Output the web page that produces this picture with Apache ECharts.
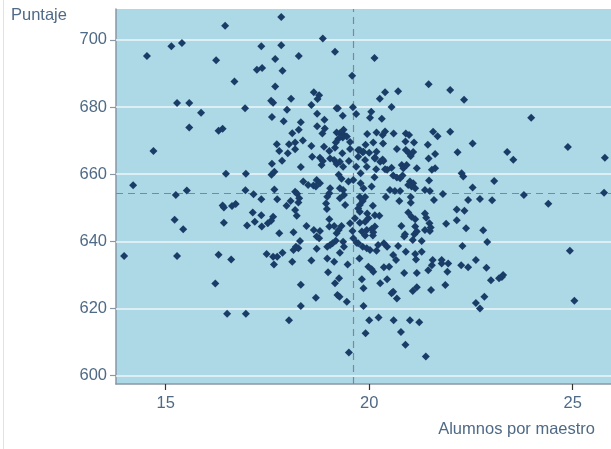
<!DOCTYPE html>
<html>
<head>
<meta charset="utf-8">
<script src="https://cdn.jsdelivr.net/npm/echarts@6/dist/echarts.min.js"></script>
<style>
  html, body { margin: 0; padding: 0; background: #ffffff; }
  #chart { width: 611px; height: 449px; }
</style>
</head>
<body>
<div id="chart"></div>
<script>
// Alumnos por maestro (x) y puntaje (y) por distrito, en el mismo orden.
const alumnosPorMaestro = [
  16.46,15.40,15.14,14.54,16.24,16.69,15.28,15.58,15.87,16.95,
  15.58,16.30,16.40,14.70,16.48,16.97,14.20,15.52,15.25,16.96,
  16.40,16.43,16.63,16.72,15.22,16.43,15.43,17.00,13.98,15.28,
  16.30,16.61,16.22,16.51,16.97,
  23.98,23.39,23.54,24.88,25.79,23.07,23.02,22.72,23.80,24.40,
  25.77,22.80,22.90,24.93,22.88,22.99,23.19,23.26,23.29,22.83,
  22.72,25.04,22.62,
  17.84,18.86,17.35,17.84,19.16,18.27,17.69,20.13,17.24,17.37,
  17.87,19.58,21.46,
  17.69,18.64,18.77,18.73,17.59,17.64,18.08,18.58,17.98,19.20,
  19.23,19.60,19.68,18.72,19.35,17.61,17.90,18.32,18.90,18.72,
  18.91,18.85,18.27,18.11,19.37,19.20,19.28,19.38,19.45,19.35,
  19.24,19.18,19.53,17.73,18.03,18.18,18.37,18.58,18.89,17.79,
  18.18,18.00,19.02,19.16,19.53,19.34,19.73,19.84,
  21.99,20.39,20.71,20.26,22.33,20.55,20.05,20.02,20.31,19.95,
  20.18,20.39,20.33,20.60,20.90,20.98,21.57,21.68,21.99,20.89,
  21.10,21.44,22.54,19.91,20.10,20.34,20.68,20.90,20.98,21.08,
  21.02,19.77,19.86,20.00,20.18,21.62,22.17,21.46,20.14,20.33,
  17.86,17.61,18.32,17.60,17.67,18.60,18.79,18.86,18.83,19.04,
  19.14,19.20,19.28,19.36,19.50,19.68,19.73,19.79,19.25,19.32,
  19.49,19.61,19.79,18.38,18.50,18.63,18.71,18.79,18.69,17.16,
  17.67,17.35,17.74,18.18,18.23,18.07,17.97,18.28,18.26,18.18,
  18.22,19.04,19.02,18.97,19.28,19.36,19.28,19.38,18.94,18.96,
  19.41,19.73,17.14,17.35,17.64,17.59,17.51,17.19,17.36,18.46,
  18.64,18.79,19.02,19.02,19.14,19.32,19.53,19.65,19.77,19.25,
  19.59,18.14,17.79,
  19.90,19.94,20.14,20.17,20.27,20.35,20.39,20.55,20.44,20.80,
  20.92,20.84,21.17,21.54,21.62,22.27,22.31,20.13,20.59,20.68,
  20.76,20.82,21.00,21.08,20.96,21.04,21.13,21.47,19.86,20.06,
  20.51,20.63,20.76,21.37,21.49,21.81,22.54,22.43,19.77,19.90,
  19.84,19.77,20.41,20.74,21.02,21.02,21.59,20.09,19.77,19.95,
  19.98,19.90,20.14,20.25,20.96,21.04,21.13,21.37,21.40,21.48,
  21.51,22.15,22.34,22.15,21.89,22.38,20.14,20.06,19.94,20.10,
  19.82,20.79,21.13,21.17,21.37,20.88,21.11,
  18.71,18.77,19.20,19.61,19.69,19.73,19.84,18.30,18.20,18.14,
  18.26,17.87,17.48,17.64,17.74,17.66,18.11,18.58,18.71,18.97,
  19.04,19.10,19.18,19.36,19.38,19.28,18.97,19.14,19.47,19.76,
  18.99,19.26,19.16,19.82,18.32,19.86,19.22,19.27,18.69,19.45,
  18.32,19.86,
  19.90,20.09,20.86,21.07,21.29,21.49,22.29,19.94,20.02,20.18,
  20.22,20.36,20.44,20.71,20.90,21.29,21.13,21.15,20.59,20.66,
  21.56,21.54,21.78,21.78,21.94,22.26,22.43,22.62,19.98,20.06,
  20.10,20.36,20.49,20.86,21.17,21.45,21.92,20.27,20.44,20.55,
  20.59,20.68,21.07,21.17,21.52,21.87,
  18.03,19.50,19.91,20.00,20.23,20.60,21.00,21.23,20.78,20.89,21.39
];

const puntaje = [
  704.2,699.1,698.1,695.2,693.9,687.6,681.2,681.2,678.3,679.6,
  673.9,672.9,673.5,666.9,660.1,660.1,656.7,655.1,653.8,655.2,
  650.7,650.1,650.5,651.1,646.4,645.5,643.6,644.7,635.6,635.6,
  636.0,634.6,627.4,618.4,618.4,
  676.8,666.6,664.3,668.1,664.9,658.0,652.2,652.6,653.8,651.2,
  654.5,643.3,639.8,637.2,632.1,628.4,629.0,629.4,630.0,623.5,
  620.0,622.3,621.6,
  706.8,700.4,698.1,698.4,696.5,695.2,694.3,694.6,691.1,691.6,
  690.8,689.3,686.8,
  686.1,684.4,683.5,682.4,681.9,681.3,682.5,680.6,679.2,679.6,
  679.6,679.9,677.9,678.0,677.4,677.0,675.8,675.5,676.2,674.3,
  673.6,672.1,673.2,672.2,673.2,672.4,672.2,671.7,671.2,670.9,
  670.5,669.4,669.6,668.9,668.9,669.4,670.0,668.4,668.2,666.9,
  667.4,666.2,666.9,667.9,667.5,666.2,667.2,666.5,
  685.1,684.4,684.7,682.5,682.2,680.0,678.6,676.8,676.5,672.0,
  672.4,672.7,671.7,672.1,672.1,671.7,672.6,671.3,672.6,669.7,
  669.4,668.8,669.1,668.8,669.4,669.1,667.5,667.2,666.2,666.6,
  665.4,667.2,666.7,666.4,666.7,666.0,666.5,664.7,665.0,664.4,
  664.0,663.1,662.1,659.8,660.7,665.2,664.9,663.9,662.7,664.7,
  664.2,663.0,663.7,662.2,663.9,662.2,665.2,660.3,659.8,658.6,
  657.8,658.3,657.3,657.8,656.8,656.6,658.3,657.3,656.3,654.0,
  655.4,652.5,652.5,654.8,654.2,652.0,650.6,652.8,651.6,649.3,
  647.6,655.8,654.3,653.3,655.8,655.3,652.8,653.8,651.3,649.6,
  650.8,649.8,648.6,647.8,647.3,646.1,645.4,645.8,644.4,644.6,
  643.4,643.1,646.6,644.4,644.6,644.6,645.4,646.9,645.5,643.4,
  643.1,642.7,642.4,
  664.2,662.2,664.7,661.5,663.7,663.9,661.5,661.9,661.3,662.7,
  662.7,661.8,661.8,661.3,661.8,660.3,659.3,659.1,659.6,659.0,
  658.8,659.6,657.8,657.3,656.8,656.3,655.8,658.1,655.8,656.3,
  655.3,655.0,655.0,655.3,655.0,654.1,656.0,652.3,653.2,653.2,
  652.0,650.8,653.2,652.0,653.2,651.5,652.3,650.6,648.8,648.3,
  646.9,645.8,647.8,647.6,648.6,647.3,646.6,648.3,647.0,645.4,
  644.1,649.5,649.1,646.3,645.2,643.9,644.4,643.7,643.4,642.7,
  642.9,644.6,644.4,642.9,643.4,642.1,642.1,
  641.4,640.9,642.4,640.9,639.6,639.4,638.4,640.1,638.4,637.4,
  637.9,636.6,636.2,635.4,635.4,633.1,633.9,634.3,637.8,638.4,
  638.9,639.4,640.2,639.9,638.4,636.6,634.9,633.9,633.1,634.9,
  630.8,629.0,627.5,628.7,627.1,626.0,624.0,623.5,623.2,622.0,
  620.7,620.7,
  641.7,641.7,641.4,640.4,640.1,643.1,638.6,637.9,637.4,637.2,
  638.9,639.4,638.4,638.6,636.9,636.9,636.2,634.6,635.9,634.4,
  634.4,632.9,634.4,633.4,633.4,632.9,632.3,634.4,632.4,631.7,
  630.9,632.3,632.4,630.6,630.6,631.4,630.9,627.5,628.7,624.5,
  625.0,623.0,625.2,626.3,625.5,627.0,
  616.5,606.9,612.6,616.5,617.3,616.5,616.5,615.9,613.0,609.2,605.7
];

// Promedios marcados con líneas discontinuas
const mediaAlumnos = 19.62;
const mediaPuntaje = 654.2;

// Marcas de los ejes
const xTicks = [15, 20, 25];
const yTicks = [600, 620, 640, 660, 680, 700];
const xRange = [13.78, 25.94];
const yRange = [597.5, 709.2];

const n = Math.min(alumnosPorMaestro.length, puntaje.length);
const puntos = [];
for (let i = 0; i < n; i++) puntos.push([alumnosPorMaestro[i], puntaje[i]]);

const FONT = '"Liberation Sans", Arial, sans-serif';
const AXIS_COLOR = '#8a97a5';
const TEXT_COLOR = '#4f6a86';

const chart = echarts.init(document.getElementById('chart'), null, { renderer: 'canvas' });
chart.setOption({
  animation: false,
  backgroundColor: '#ffffff',
  textStyle: { fontFamily: FONT },
  grid: {
    left: 116, top: 9, right: 0, bottom: 65,
    show: true, backgroundColor: '#add8e6', borderWidth: 0
  },
  xAxis: {
    type: 'value',
    min: xRange[0], max: xRange[1],
    axisLine: { show: true, onZero: false, lineStyle: { color: AXIS_COLOR, width: 1.5 } },
    axisTick: { show: true, length: 6, customValues: xTicks, lineStyle: { color: '#333', width: 1.2 } },
    axisLabel: { customValues: xTicks, color: TEXT_COLOR, fontSize: 16.5, margin: 11, fontFamily: FONT },
    splitLine: { show: false }
  },
  yAxis: {
    type: 'value',
    min: yRange[0], max: yRange[1],
    axisLine: { show: true, onZero: false, lineStyle: { color: AXIS_COLOR, width: 1.5 } },
    axisTick: { show: true, length: 6, customValues: yTicks, lineStyle: { color: AXIS_COLOR, width: 1.2 } },
    axisLabel: { customValues: yTicks, color: TEXT_COLOR, fontSize: 16.5, margin: 9, fontFamily: FONT },
    splitLine: { show: false }
  },
  graphic: [
    { type: 'line', shape: { x1: 3.5, y1: 0, x2: 3.5, y2: 449 }, style: { stroke: '#e2e2e2', lineWidth: 1 }, z: -1 },
    { type: 'text', left: 11, top: 7, style: { text: 'Puntaje', fill: TEXT_COLOR, font: '16.5px ' + FONT } },
    { type: 'text', right: 16, top: 421, style: { text: 'Alumnos por maestro', fill: TEXT_COLOR, font: '16.5px ' + FONT } }
  ],
  series: [
    {
      // líneas de la cuadrícula horizontal
      type: 'scatter', data: [], z: 1, silent: true,
      markLine: {
        silent: true, symbol: 'none', label: { show: false }, animation: false,
        lineStyle: { color: '#eef6f9', width: 1.5, type: 'solid' },
        data: yTicks.map(v => ({ yAxis: v }))
      }
    },
    {
      // promedios
      type: 'scatter', data: [], z: 2, silent: true,
      markLine: {
        silent: true, symbol: 'none', label: { show: false }, animation: false,
        lineStyle: { color: '#7c8894', width: 1.2, type: [7, 5] },
        data: [{ xAxis: mediaAlumnos }, { yAxis: mediaPuntaje }]
      }
    },
    {
      type: 'scatter',
      z: 5,
      data: puntos,
      symbol: 'diamond',
      symbolSize: 8,
      itemStyle: { color: '#1a3d68', opacity: 1 }
    }
  ]
});
</script>
</body>
</html>
